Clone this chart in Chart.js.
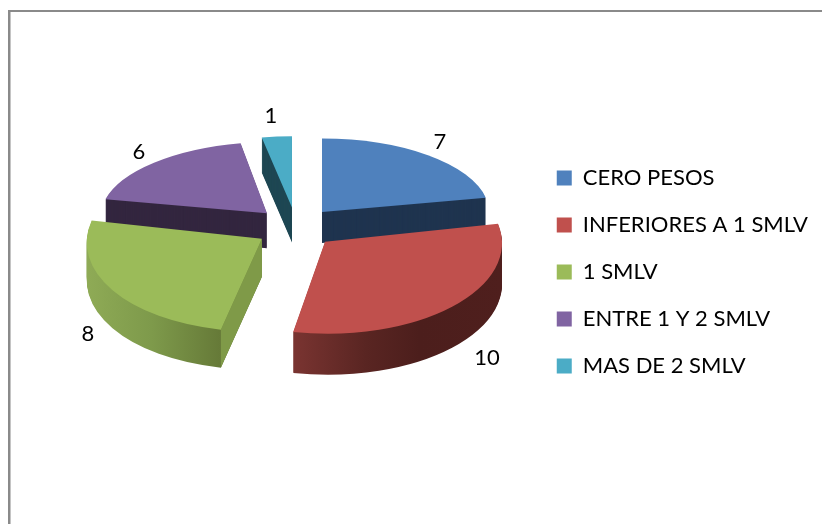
<!DOCTYPE html>
<html>
<head>
<meta charset="utf-8">
<title>SMLV</title>
<style>
  html, body { margin: 0; padding: 0; background: #fff; }
  canvas { display: block; }
</style>
<script src="https://cdn.jsdelivr.net/npm/chart.js@4"></script>
</head>
<body>
<canvas id="chart" width="822" height="524"></canvas>
<script>
// ── Data ─────────────────────────────────────────────────────────────
const CATEGORIES = ['CERO PESOS', 'INFERIORES A 1 SMLV', '1 SMLV', 'ENTRE 1 Y 2 SMLV', 'MAS DE 2 SMLV'];
const VALUES     = [7, 10, 8, 6, 1];
const COLORS     = ['#4f81bd', '#c0504d', '#9bbb59', '#8064a2', '#4bacc6'];

// ── 3D look: fake perspective, one affine per slice ──────────────────
const FONT     = 'Lato, Carlito, sans-serif';
const PIE_X    = 296;
const PIE_Y    = 227.5;
const EXPLODE  = 41;
const EXPLODE_Y = 0.49;
const DRAW_ORDER = [4, 3, 0, 2, 1];   // back to front

const SLICE_3D = [
  { r: 167, k: 0.44,  shear: 0,      depth: 31, wall: '#1f344f' },
  { r: 177, k: 0.52,  shear: 0.03,   depth: 41, wall: [[0, '#7a3431'], [0.35, '#592522'], [0.6, '#4c1e1c'], [1, '#4f1f1d']] },
  { r: 175, k: 0.53,  shear: -0.076, depth: 38, wall: [[0, '#8fab56'], [0.5, '#7e9a4b'], [1, '#667a38']], face: '#7f9a48' },
  { r: 166, k: 0.43,  shear: -0.086, depth: 35, wall: '#33263f' },
  { r: 155, k: 0.46,  shear: 0,      depth: 35, wall: '#1e4753' },
];

const LABEL_POS = [[440, 142], [487, 358], [88, 334], [139, 152], [271, 116]];

function wallFill(ctx, arc, wall) {
  if (typeof wall === 'string') return wall;
  const R = arc.outerRadius;
  const x0 = wall.length === 4 ? arc.x - 0.2 * R : arc.x - R;
  const x1 = wall.length === 4 ? arc.x + R : arc.x - 0.2 * R;
  const g = ctx.createLinearGradient(x0, 0, x1, 0);
  wall.forEach(s => g.addColorStop(s[0], s[1]));
  return g;
}

function arcOpts(color) {
  return { backgroundColor: color, borderColor: color, borderWidth: 0, offset: 0, spacing: 0,
           borderRadius: 0, borderAlign: 'center', circular: true };
}

const pie3d = {
  id: 'pie3d',
  beforeDraw(chart) {
    const ctx = chart.ctx;
    ctx.fillStyle = '#8a8a8a';
    ctx.fillRect(8, 10, 2.5, 514);
    ctx.fillRect(8, 10, 814, 2);
  },
  beforeDatasetsDraw(chart) {
    const ctx = chart.ctx;
    const arcs = chart.getDatasetMeta(0).data;

    DRAW_ORDER.forEach(i => {
      const arc = arcs[i];
      const s = SLICE_3D[i];
      const mid = (arc.startAngle + arc.endAngle) / 2;
      const ax = PIE_X + EXPLODE * Math.cos(mid);
      const ay = PIE_Y + EXPLODE * EXPLODE_Y * Math.sin(mid);
      const sx = s.r / arc.outerRadius;
      const sy = sx * s.k;
      const place = dy => {
        ctx.save();
        ctx.transform(sx, 0, s.shear * sy, sy, ax, ay + dy);
        ctx.translate(-arc.x, -arc.y);
      };
      const saved = arc.options;

      // side wall = the same slice stacked downwards
      arc.options = arcOpts(wallFill(ctx, arc, s.wall));
      for (let dy = s.depth; dy > 0; dy--) {
        place(dy);
        arc.draw(ctx);
        ctx.restore();
      }

      // cut face on the start side, only the green one shows
      if (s.face) {
        const u = s.r * Math.cos(arc.startAngle);
        const v = s.r * s.k * Math.sin(arc.startAngle);
        const ex = ax + u + s.shear * v;
        const ey = ay + v;
        ctx.fillStyle = s.face;
        ctx.beginPath();
        ctx.moveTo(ax, ay);
        ctx.lineTo(ex, ey);
        ctx.lineTo(ex, ey + s.depth);
        ctx.lineTo(ax, ay + s.depth);
        ctx.closePath();
        ctx.fill();
      }

      arc.options = arcOpts(COLORS[i]);
      place(0);
      arc.draw(ctx);
      ctx.restore();
      arc.options = saved;
    });

    ctx.save();
    ctx.fillStyle = '#000';
    ctx.font = '22px ' + FONT;
    ctx.textAlign = 'center';
    ctx.textBaseline = 'middle';
    VALUES.forEach((v, i) => ctx.fillText(String(v), LABEL_POS[i][0], LABEL_POS[i][1]));
    ctx.restore();
    return false;
  }
};

new Chart(document.getElementById('chart'), {
  type: 'pie',
  data: {
    labels: CATEGORIES,
    datasets: [{ data: VALUES, backgroundColor: COLORS, borderWidth: 0 }]
  },
  options: {
    responsive: false,
    animation: false,
    layout: { padding: { top: 20, right: 4 } },
    plugins: {
      tooltip: { enabled: false },
      legend: {
        position: 'right',
        labels: {
          boxWidth: 15,
          boxHeight: 15,
          padding: 25,
          color: '#000',
          font: { family: FONT, size: 22 }
        }
      }
    }
  },
  plugins: [pie3d]
});
</script>
</body>
</html>
